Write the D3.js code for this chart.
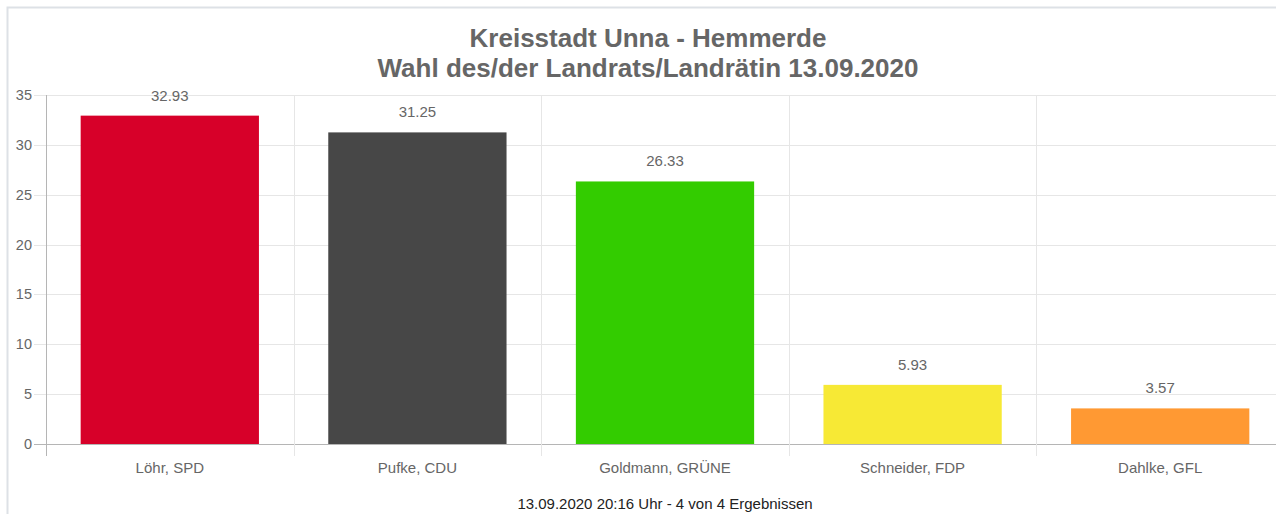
<!DOCTYPE html>
<html>
<head>
<meta charset="utf-8">
<script src="https://cdn.jsdelivr.net/npm/d3@7"></script>
<style>
  body { margin: 0; background: #fff; }
  svg { display: block; font-family: "Liberation Sans", Arial, sans-serif; }
</style>
</head>
<body>
<svg id="chart" width="1276" height="514"></svg>
<script>
const categories = ["Löhr, SPD", "Pufke, CDU", "Goldmann, GRÜNE", "Schneider, FDP", "Dahlke, GFL"];
const values = [32.93, 31.25, 26.33, 5.93, 3.57];
const colors = ["#d70029", "#474747", "#33cc00", "#f7e935", "#ff9933"];
const yTicks = [0, 5, 10, 15, 20, 25, 30, 35];

const svg = d3.select("#chart");
const margin = {left: 46, top: 95, bottom: 444};
const plotRight = 1284;

// outer frame
svg.append("path")
    .attr("d", "M7.5,514 L7.5,7.5 L1276,7.5")
    .attr("fill", "none")
    .attr("stroke", "#dde1e6")
    .attr("stroke-width", 2);

const x = d3.scaleBand()
    .domain(categories)
    .range([margin.left, plotRight])
    .paddingInner(0)
    .paddingOuter(0);

const y = d3.scaleLinear()
    .domain([0, 35])
    .range([margin.bottom, margin.top]);

// horizontal grid
svg.append("g")
    .selectAll("line")
    .data(yTicks)
    .join("line")
    .attr("x1", 34)
    .attr("x2", plotRight)
    .attr("y1", d => Math.round(y(d)) + 0.5)
    .attr("y2", d => Math.round(y(d)) + 0.5)
    .attr("stroke", d => d === 0 ? "#b5b5b5" : "#e6e6e6")
    .attr("stroke-width", 1);

// vertical grid between bands
const bounds = categories.map(c => x(c)).concat([plotRight]);
svg.append("g")
    .selectAll("line")
    .data(bounds)
    .join("line")
    .attr("x1", d => Math.round(d) + 0.5)
    .attr("x2", d => Math.round(d) + 0.5)
    .attr("y1", margin.top)
    .attr("y2", 456)
    .attr("stroke", (d, i) => i === 0 ? "#b5b5b5" : "#e6e6e6");

// y labels
svg.append("g")
    .attr("font-size", 14.5)
    .attr("fill", "#666")
    .attr("text-anchor", "end")
    .selectAll("text")
    .data(yTicks)
    .join("text")
    .attr("x", 32)
    .attr("y", d => y(d) + 5)
    .text(d => d);

// bars
const bw = x.bandwidth() * 0.72;
svg.append("g")
    .selectAll("rect")
    .data(values)
    .join("rect")
    .attr("x", (d, i) => x(categories[i]) + (x.bandwidth() - bw) / 2)
    .attr("width", bw)
    .attr("y", d => y(d))
    .attr("height", d => y(0) - y(d))
    .attr("fill", (d, i) => colors[i]);

// value labels
svg.append("g")
    .attr("font-size", 15)
    .attr("fill", "#666")
    .attr("text-anchor", "middle")
    .selectAll("text")
    .data(values)
    .join("text")
    .attr("x", (d, i) => x(categories[i]) + x.bandwidth() / 2)
    .attr("y", d => y(d) - 15)
    .text(d => d.toFixed(2));

// category labels
svg.append("g")
    .attr("font-size", 15)
    .attr("fill", "#666")
    .attr("text-anchor", "middle")
    .selectAll("text")
    .data(categories)
    .join("text")
    .attr("x", d => x(d) + x.bandwidth() / 2)
    .attr("y", 473)
    .text(d => d);

// titles
svg.append("text")
    .attr("x", 648).attr("y", 47)
    .attr("text-anchor", "middle")
    .attr("font-size", 26).attr("font-weight", "bold")
    .attr("fill", "#666")
    .text("Kreisstadt Unna - Hemmerde");
svg.append("text")
    .attr("x", 648).attr("y", 77)
    .attr("text-anchor", "middle")
    .attr("font-size", 26).attr("font-weight", "bold")
    .attr("fill", "#666")
    .text("Wahl des/der Landrats/Landrätin 13.09.2020");

svg.append("text")
    .attr("x", 665).attr("y", 509)
    .attr("text-anchor", "middle")
    .attr("font-size", 15)
    .attr("fill", "#222")
    .text("13.09.2020 20:16 Uhr - 4 von 4 Ergebnissen");
</script>
</body>
</html>
